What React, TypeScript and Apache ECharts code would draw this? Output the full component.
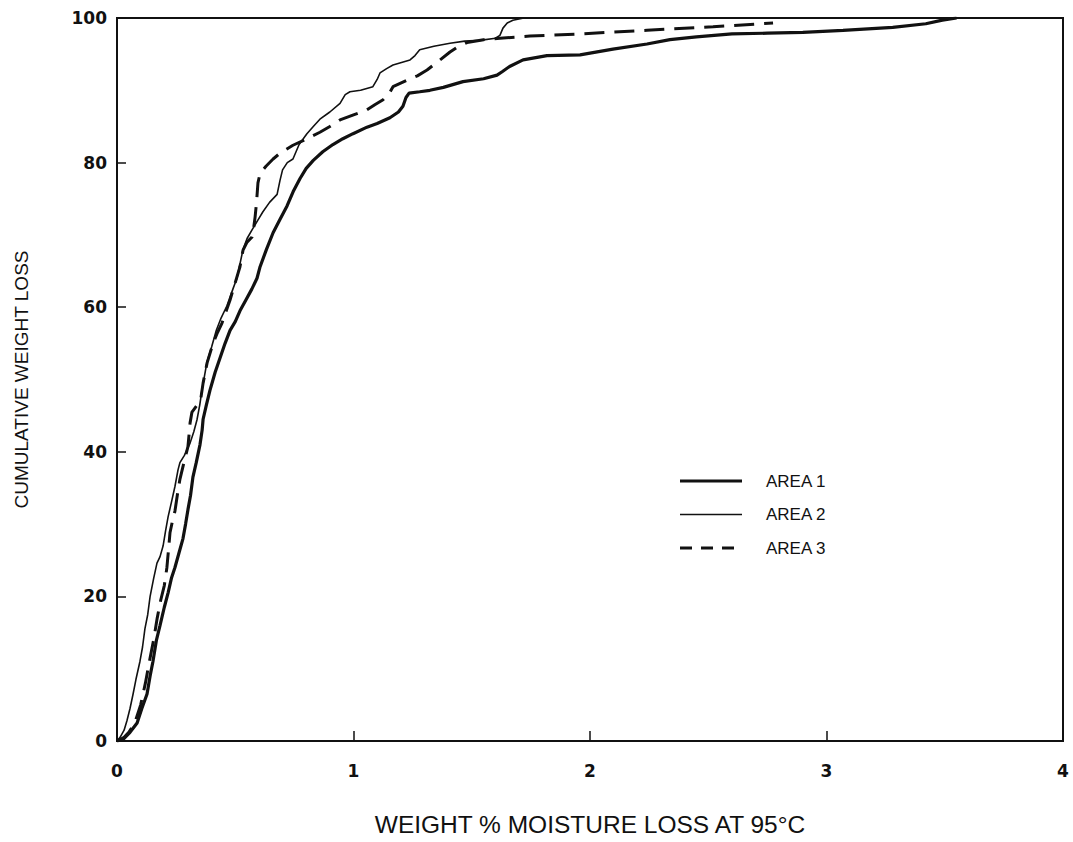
import { useEffect, useRef } from "react";
import * as echarts from "echarts";

// Cumulative weight loss curves (x: weight % moisture loss at 95°C, y: cumulative %)
const area1X = [0, 0.025, 0.055, 0.085, 0.105, 0.127, 0.14, 0.152, 0.167, 0.182, 0.2, 0.216, 0.23, 0.245, 0.262, 0.279, 0.29, 0.3, 0.311, 0.321, 0.335, 0.351, 0.36, 0.364, 0.378, 0.393, 0.415, 0.436, 0.457, 0.478, 0.5, 0.52, 0.545, 0.57, 0.592, 0.605, 0.632, 0.66, 0.69, 0.719, 0.745, 0.774, 0.8, 0.83, 0.87, 0.913, 0.955, 0.998, 1.057, 1.1, 1.154, 1.19, 1.209, 1.222, 1.235, 1.28, 1.323, 1.38, 1.463, 1.55, 1.607, 1.63, 1.66, 1.717, 1.818, 1.958, 2.097, 2.241, 2.338, 2.45, 2.6, 2.75, 2.9, 3.07, 3.28, 3.42, 3.49, 3.55];
const area1Y = [0, 0.2, 1.2, 2.5, 4.5, 6.5, 9, 11, 14, 16, 18.5, 20.5, 22.5, 24, 26, 28, 30, 32, 34, 36.5, 38.5, 41, 43, 44.5, 46.5, 48.5, 51, 53, 55, 56.8, 58, 59.5, 61, 62.5, 64, 65.6, 68, 70.3, 72.2, 74, 76, 77.8, 79.2, 80.3, 81.5, 82.5, 83.3, 84, 84.9, 85.4, 86.2, 87, 87.8, 89, 89.6, 89.8, 90, 90.4, 91.2, 91.6, 92.1, 92.6, 93.3, 94.2, 94.8, 94.9, 95.7, 96.4, 97, 97.4, 97.8, 97.9, 98, 98.3, 98.7, 99.2, 99.7, 100];

const area2X = [0, 0.013, 0.03, 0.042, 0.055, 0.068, 0.08, 0.097, 0.108, 0.118, 0.13, 0.14, 0.155, 0.169, 0.182, 0.195, 0.205, 0.216, 0.23, 0.245, 0.258, 0.266, 0.285, 0.309, 0.325, 0.338, 0.35, 0.359, 0.37, 0.381, 0.4, 0.42, 0.44, 0.465, 0.49, 0.507, 0.52, 0.533, 0.55, 0.571, 0.595, 0.617, 0.645, 0.677, 0.689, 0.7, 0.72, 0.744, 0.77, 0.803, 0.83, 0.858, 0.9, 0.943, 0.965, 0.985, 1.03, 1.082, 1.1, 1.112, 1.14, 1.167, 1.239, 1.26, 1.28, 1.34, 1.408, 1.47, 1.535, 1.6, 1.619, 1.632, 1.65, 1.674, 1.72];
const area2Y = [0, 0.5, 1.5, 2.8, 4.5, 6.5, 8.5, 11, 13, 15.5, 17.5, 20, 22.5, 24.6, 25.5, 27, 29, 31, 33, 35.2, 37.5, 38.5, 39.5, 41.2, 42.8, 44.4, 46.5, 48.5, 50.5, 52.5, 54.5, 56.8, 58.5, 60.2, 62.5, 64, 66, 68, 69.5, 70.7, 72, 73.2, 74.5, 75.6, 77.5, 79, 80, 80.5, 82.5, 84, 85, 86, 87, 88.2, 89.4, 89.8, 90, 90.5, 91.5, 92.4, 93, 93.5, 94.2, 94.8, 95.6, 96.1, 96.5, 96.8, 96.9, 97.2, 97.6, 98.6, 99.3, 99.7, 100];

const area3X = [0, 0.03, 0.05, 0.075, 0.1, 0.12, 0.14, 0.155, 0.17, 0.185, 0.2, 0.211, 0.218, 0.224, 0.235, 0.245, 0.255, 0.266, 0.283, 0.3, 0.305, 0.309, 0.317, 0.34, 0.355, 0.364, 0.381, 0.406, 0.425, 0.444, 0.462, 0.478, 0.499, 0.52, 0.533, 0.55, 0.571, 0.578, 0.584, 0.59, 0.596, 0.605, 0.63, 0.66, 0.689, 0.744, 0.803, 0.858, 0.9, 0.943, 1.0, 1.057, 1.09, 1.125, 1.15, 1.167, 1.226, 1.27, 1.311, 1.366, 1.408, 1.44, 1.48, 1.55, 1.619, 1.746, 1.958, 2.241, 2.52, 2.774];
const area3Y = [0, 0.5, 1.2, 2.5, 5, 8, 11.5, 14, 17, 19.5, 21.5, 24, 26.5, 28.8, 30.5, 31.8, 34, 36.2, 38.5, 40.7, 42.5, 44, 45.5, 46.5, 47.5, 49.5, 52.3, 55, 56.5, 57.8, 59.5, 61, 63.3, 65.6, 67.9, 69, 69.7, 71, 72.5, 74.5, 77.2, 78.5, 79.5, 80.5, 81.3, 82.4, 83.3, 84.2, 85, 85.9, 86.6, 87.3, 88, 88.7, 89.5, 90.5, 91.4, 92, 92.8, 94.2, 95.3, 96, 96.6, 97, 97.2, 97.5, 97.8, 98.3, 98.8, 99.3];

const seriesNames = ["AREA 1", "AREA 2", "AREA 3"];
const xRange = [0, 4];
const xStep = 1;
const yRange = [0, 100];
const yStep = 20;

const xTitle = "WEIGHT % MOISTURE LOSS AT 95°C";
const yTitle = "CUMULATIVE WEIGHT LOSS";

const pairs = (xs: number[], ys: number[]) => xs.map((x, i) => [x, ys[i]]);

const FONT = "'Liberation Sans', Arial, Helvetica, sans-serif";
const INK = "#111";

// Line styles shared by each series and its key entry
const lineStyles = [
  { color: INK, width: 3.2 },
  { color: INK, width: 1.6 },
  { color: INK, width: 3, type: [20, 10] as number[] },
];

export default function App() {
  const ref = useRef<HTMLDivElement>(null);

  useEffect(() => {
    if (!ref.current) return;
    const chart = echarts.init(ref.current, null, { renderer: "svg" });
    const axisText = {
      color: INK,
      fontFamily: "'DejaVu Sans', " + FONT,
      fontWeight: "bold" as const,
      fontSize: 17,
    };

    // Hand-placed key: a line sample followed by its label, one row per area
    const keyLeft = 680;
    const keyTop = 481;
    const keyRow = 33.5;
    const keyItems: any[] = [];
    seriesNames.forEach((name, i) => {
      const y = keyTop + i * keyRow;
      const ls = lineStyles[i];
      keyItems.push({
        type: "line",
        shape: { x1: keyLeft, y1: y, x2: keyLeft + 62, y2: y },
        style: {
          stroke: ls.color,
          lineWidth: ls.width,
          lineDash: ls.type ? [12, 9] : null,
        },
      });
      keyItems.push({
        type: "text",
        x: keyLeft + 86,
        y,
        style: {
          text: name,
          fill: INK,
          font: `17px ${FONT}`,
          verticalAlign: "middle",
        },
      });
    });

    chart.setOption({
      animation: false,
      backgroundColor: "#fff",
      grid: {
        left: 117,
        top: 18,
        width: 946,
        height: 723,
        show: true,
        borderColor: INK,
        borderWidth: 2,
        backgroundColor: "transparent",
      },
      graphic: keyItems,
      xAxis: {
        type: "value",
        min: xRange[0],
        max: xRange[1],
        interval: xStep,
        name: xTitle,
        nameLocation: "middle",
        nameGap: 71,
        nameTextStyle: { color: INK, fontFamily: FONT, fontSize: 24.5 },
        axisLine: { show: true, lineStyle: { color: INK, width: 2 } },
        axisTick: { show: true, inside: true, length: 10, lineStyle: { color: INK, width: 1.5 } },
        axisLabel: { ...axisText, margin: 21 },
        splitLine: { show: false },
      },
      yAxis: {
        type: "value",
        min: yRange[0],
        max: yRange[1],
        interval: yStep,
        name: yTitle,
        nameLocation: "middle",
        nameGap: 86,
        nameTextStyle: { color: INK, fontFamily: FONT, fontSize: 19 },
        axisLine: { show: true, lineStyle: { color: INK, width: 2 } },
        axisTick: { show: true, inside: true, length: 9, lineStyle: { color: INK, width: 1.5 } },
        axisLabel: { ...axisText, margin: 10 },
        splitLine: { show: false },
      },
      series: [
        { name: seriesNames[0], type: "line", data: pairs(area1X, area1Y), symbol: "none", lineStyle: lineStyles[0] },
        { name: seriesNames[1], type: "line", data: pairs(area2X, area2Y), symbol: "none", lineStyle: lineStyles[1] },
        { name: seriesNames[2], type: "line", data: pairs(area3X, area3Y), symbol: "none", lineStyle: lineStyles[2] },
      ],
    });
    return () => chart.dispose();
  }, []);

  return (
    <div
      ref={ref}
      style={{ position: "fixed", left: 0, top: 0, width: 1073, height: 842, background: "#fff" }}
    />
  );
}
